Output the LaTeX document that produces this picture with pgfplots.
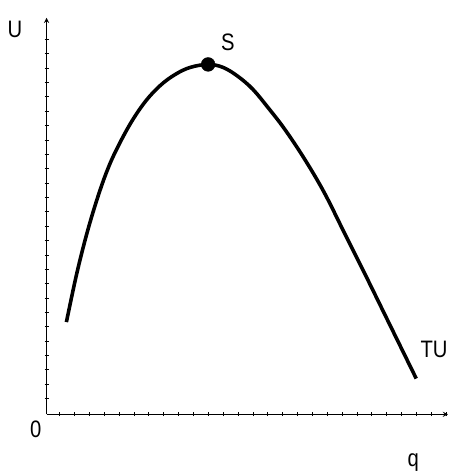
\documentclass[border=0pt]{standalone}
\usepackage{pgfplots}
\pgfplotsset{compat=1.18}
\usepackage{fontspec}
\setmainfont{Liberation Sans}
\begin{document}
\begin{tikzpicture}
\begin{axis}[x=1pt,y=1pt,xmin=0,xmax=405,ymin=0,ymax=400,
  axis lines=left,axis line style={line width=1.3pt,-stealth},
  clip=false,
  xtick={13,28,...,403},ytick={16,30.5,...,378},
  xticklabels={},yticklabels={},
  major tick length=4pt,tick style={line width=1pt,black},
  every tick/.style={black}]
\addplot[black,line width=3.6pt,smooth,tension=0.6] coordinates {
(20,93)(30,140)(40,180)(50,214)(60,243)(70,266)(85,294)(100,316)(115,332)(130,343)(145,350)(163,353)
(178,350)(193,341)(208,328)(223,310)(240,288)(260,258)(280,224)(300,184)(320,144)(346,91)(373,36)};
\addplot[only marks,mark=*,mark size=7pt,black] coordinates {(163,353)};
\path (axis cs:-47,-57) rectangle (axis cs:407,418);
\tikzset{lab/.style={font=\fontsize{24}{27}\selectfont,xscale=0.85}}
\node[lab] at (axis cs:-32,388) {U};
\node[lab] at (axis cs:-11,-15) {0};
\node[lab] at (axis cs:370,-49) {q};
\node[lab] at (axis cs:183,375) {S};
\node[lab] at (axis cs:391,65) {TU};
\end{axis}
\end{tikzpicture}
\end{document}
